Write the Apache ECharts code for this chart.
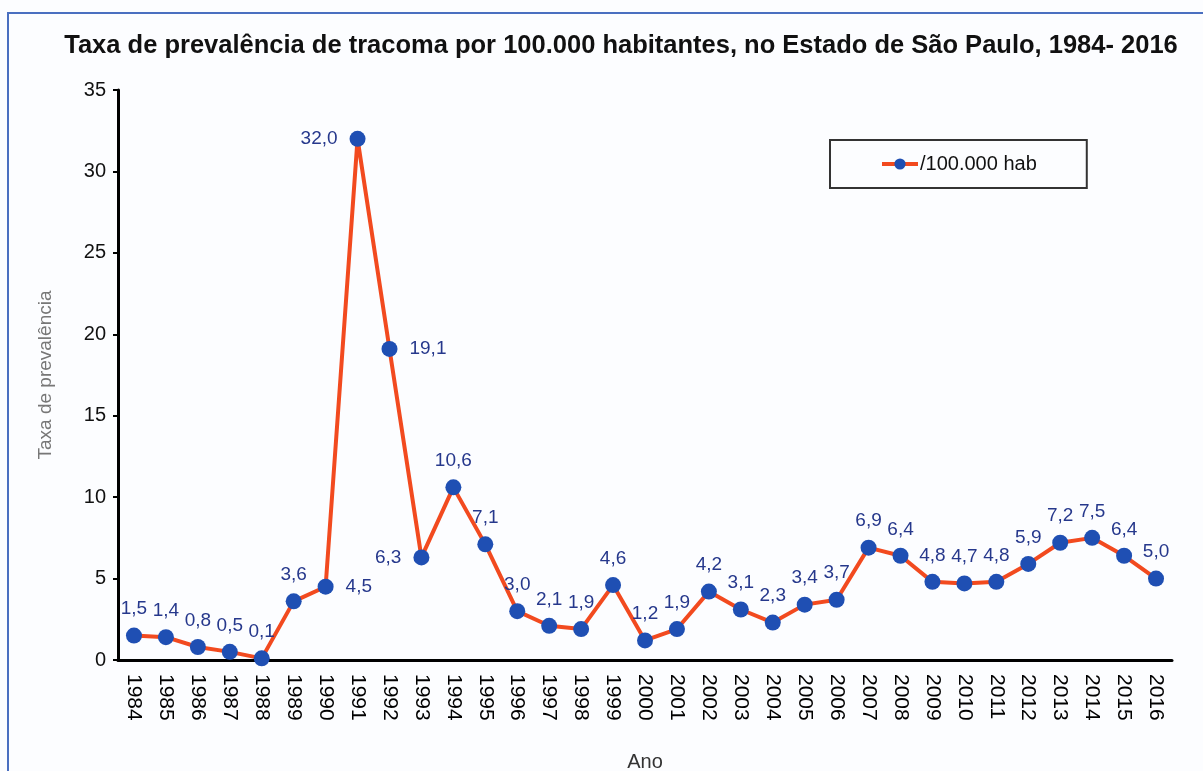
<!DOCTYPE html>
<html>
<head>
<meta charset="utf-8">
<script src="https://cdn.jsdelivr.net/npm/echarts@6/dist/echarts.min.js"></script>
<style>
  html, body { margin: 0; padding: 0; background: #fcfdff; }
  #chart { width: 1203px; height: 771px; }
</style>
</head>
<body>
<div id="chart"></div>
<script>
const years = ["1984", "1985", "1986", "1987", "1988", "1989", "1990", "1991", "1992", "1993",
  "1994", "1995", "1996", "1997", "1998", "1999", "2000", "2001", "2002", "2003", "2004",
  "2005", "2006", "2007", "2008", "2009", "2010", "2011", "2012", "2013", "2014", "2015", "2016"];
const rates = [1.5, 1.4, 0.8, 0.5, 0.1, 3.6, 4.5, 32.0, 19.1, 6.3,
  10.6, 7.1, 3.0, 2.1, 1.9, 4.6, 1.2, 1.9, 4.2, 3.1, 2.3,
  3.4, 3.7, 6.9, 6.4, 4.8, 4.7, 4.8, 5.9, 7.2, 7.5, 6.4, 5.0];
const yTicks = [0, 5, 10, 15, 20, 25, 30, 35];

// labels that sit beside the point instead of above it
const labelSide = { "1990": "right", "1991": "left", "1992": "right", "1993": "left" };

const seriesData = rates.map((v, i) => {
  const side = labelSide[years[i]];
  return side ? { value: v, label: { position: side, distance: 12 } } : v;
});

const chart = echarts.init(document.getElementById("chart"));
chart.setOption({
  backgroundColor: "#fcfdff",
  animation: false,
  title: {
    text: "Taxa de prevalência de tracoma por 100.000 habitantes, no Estado de São Paulo, 1984- 2016",
    left: 616,
    textAlign: "center",
    top: 28,
    textStyle: { fontFamily: "Liberation Sans", fontSize: 25.5, fontWeight: "bold", color: "#111" }
  },
  graphic: [{
    type: "rect",
    shape: { x: 8, y: 13, width: 1400, height: 900 },
    style: { fill: "none", stroke: "#4a6fc0", lineWidth: 2 }
  }],
  legend: {
    left: 830,
    top: 140,
    itemWidth: 36,
    itemHeight: 14,
    itemGap: 4,
    padding: [14, 50, 14, 50],
    borderColor: "#333",
    borderWidth: 2,
    borderRadius: 0,
    lineStyle: { width: 4 },
    textStyle: { fontFamily: "Liberation Sans", fontSize: 20, color: "#111", padding: [0, 0, 0, -3] }
  },
  grid: { left: 118, right: 31, top: 90, bottom: 111, outerBoundsMode: "none" },
  xAxis: {
    type: "category",
    data: years,
    name: "Ano",
    nameLocation: "middle",
    nameGap: 92,
    nameTextStyle: { fontFamily: "Liberation Sans", fontSize: 20, color: "#333" },
    axisLine: { lineStyle: { color: "#000", width: 3 } },
    axisTick: { length: 5, lineStyle: { color: "#000", width: 2 } },
    axisLabel: { rotate: -90, margin: 14, fontFamily: "Liberation Sans", fontSize: 21, color: "#000" }
  },
  yAxis: {
    type: "value",
    min: yTicks[0],
    max: yTicks[yTicks.length - 1],
    interval: 5,
    name: "Taxa de prevalência",
    nameLocation: "middle",
    nameGap: 63,
    nameTextStyle: { fontFamily: "Liberation Sans", fontSize: 19, color: "#777" },
    splitLine: { show: false },
    axisLine: { show: true, lineStyle: { color: "#000", width: 3 } },
    axisTick: { show: true, length: 5, lineStyle: { color: "#000", width: 2 } },
    axisLabel: { margin: 12, fontFamily: "Liberation Sans", fontSize: 20, color: "#111" }
  },
  series: [{
    name: "/100.000 hab",
    type: "line",
    data: seriesData,
    symbol: "circle",
    symbolSize: 16,
    lineStyle: { color: "#f24a1f", width: 4 },
    itemStyle: { color: "#1f4fb3" },
    label: {
      show: true,
      position: "top",
      distance: 9,
      fontFamily: "Liberation Sans",
      fontSize: 19,
      color: "#26388c",
      formatter: p => p.value.toFixed(1).replace(".", ",")
    }
  }]
});
</script>
</body>
</html>
